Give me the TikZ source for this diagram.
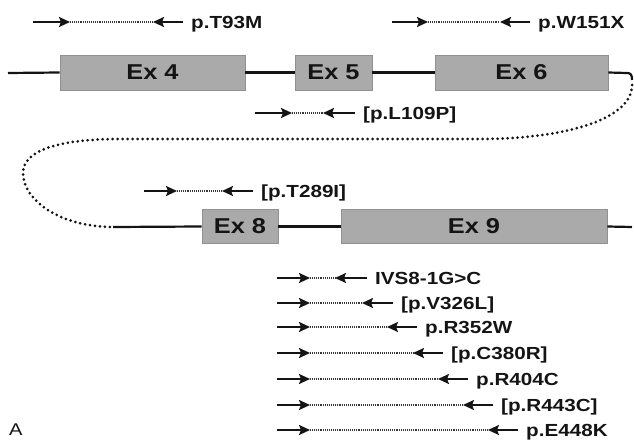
\documentclass[tikz,border=0pt]{standalone}
\usepackage{fontspec}
\setmainfont{Liberation Sans}[FakeStretch=1.18]
\usetikzlibrary{arrows.meta}
\definecolor{exfill}{RGB}{170,170,170}
\definecolor{exedge}{RGB}{145,145,145}
\definecolor{ink}{RGB}{20,20,20}
\tikzset{
  exon/.style={draw=exedge, fill=exfill, line width=0.9pt, inner sep=0pt,
    font=\fontsize{21.5}{21.5}\selectfont\bfseries, text=ink},
  intron/.style={draw=ink, line width=2.2pt},
  loopdots/.style={draw=ink, line width=3pt, line cap=round, dash pattern=on 0pt off 5pt},
  arr/.style={draw=ink, line width=2pt, -{Stealth[length=11pt,width=10pt,inset=2pt]}},
  fine/.style={draw=ink!85, line width=1.8pt, dash pattern=on 1pt off 0.9pt},
  lab/.style={anchor=base west, inner sep=0pt, text=ink,
    font=\fontsize{17.5}{17.5}\selectfont\bfseries},
}
\newcommand\mutarrow[7]{%
  \coordinate (#1a) at (#3,#2);
  \coordinate (#1b) at (#4,#2);
  \coordinate (#1c) at (#5,#2);
  \coordinate (#1d) at (#6,#2);
  \draw[arr] (#1a) -- (#1b);
  \draw[fine] (#1b) -- (#1c);
  \draw[arr] (#1d) -- (#1c);
  \node[lab] (#1l) at ([xshift=8pt,yshift=-6.3pt]#1d) {#7};
}
\begin{document}
\begin{tikzpicture}[x=1pt,y=-1pt]
\useasboundingbox (0,0) rectangle (634,441);
% exons
\node[exon, minimum width=185pt, minimum height=35pt] (ex4) at (152.5,72.5) {Ex 4};
\node[exon, minimum width=77pt, minimum height=35pt] (ex5) at (333.5,72.5) {Ex 5};
\node[exon, minimum width=173pt, minimum height=35pt] (ex6) at (521.5,72.5) {Ex 6};
\node[exon, minimum width=76pt, minimum height=34pt] (ex8) at (240,226.5) {Ex 8};
\node[exon, minimum width=266pt, minimum height=34pt] (ex9) at (474,226.5) {Ex 9};
% top introns
\coordinate (t0) at (8,73);
\coordinate (t1) at (627,73);
\coordinate (t2) at (632,80);
\draw[intron] (t0) -- (ex4.west);
\draw[intron] (ex4.east) -- (ex5.west);
\draw[intron] (ex5.east) -- (ex6.west);
\draw[intron] (ex6.east) -- (t1) .. controls (631,73) and (632,75) .. (t2);
% loop
\coordinate (l1) at (480,139);
\coordinate (l2) at (120,139);
\coordinate (l3) at (23,173);
\coordinate (b0) at (113,227);
\draw[loopdots] (632,85) .. controls (632,121) and (560,139) .. (l1) -- (l2)
  .. controls (60,139) and (23,150) .. (l3)
  .. controls (23,200) and (60,227) .. (b0);
% bottom introns
\coordinate (b1) at (632,227);
\draw[intron] (b0) -- (ex8.west);
\draw[intron] (ex8.east) -- (ex9.west);
\draw[intron] (ex9.east) -- (b1);
% mutations
\mutarrow{m1}{22}{33}{70}{153}{183}{p.T93M}
\mutarrow{m2}{22}{392}{428}{500}{530}{p.W151X}
\mutarrow{m3}{113}{255}{292}{323}{355}{[p.L109P]}
\mutarrow{m4}{191}{144}{177}{222}{253}{[p.T289I]}
\mutarrow{m5}{278}{277}{310}{335}{367}{IVS8-1G>C}
\mutarrow{m6}{303}{277}{310}{362}{393}{[p.V326L]}
\mutarrow{m7}{327}{277}{310}{387}{417}{p.R352W}
\mutarrow{m8}{353}{277}{310}{413}{443}{[p.C380R]}
\mutarrow{m9}{379}{277}{310}{438}{468}{p.R404C}
\mutarrow{m10}{405}{277}{310}{463}{493}{[p.R443C]}
\mutarrow{m11}{430}{277}{310}{488}{518}{p.E448K}
% panel letter
\node[anchor=base west, inner sep=0pt, text=ink, font=\fontsize{17}{17}\selectfont] (panel) at (9,435) {A};
\end{tikzpicture}
\end{document}
